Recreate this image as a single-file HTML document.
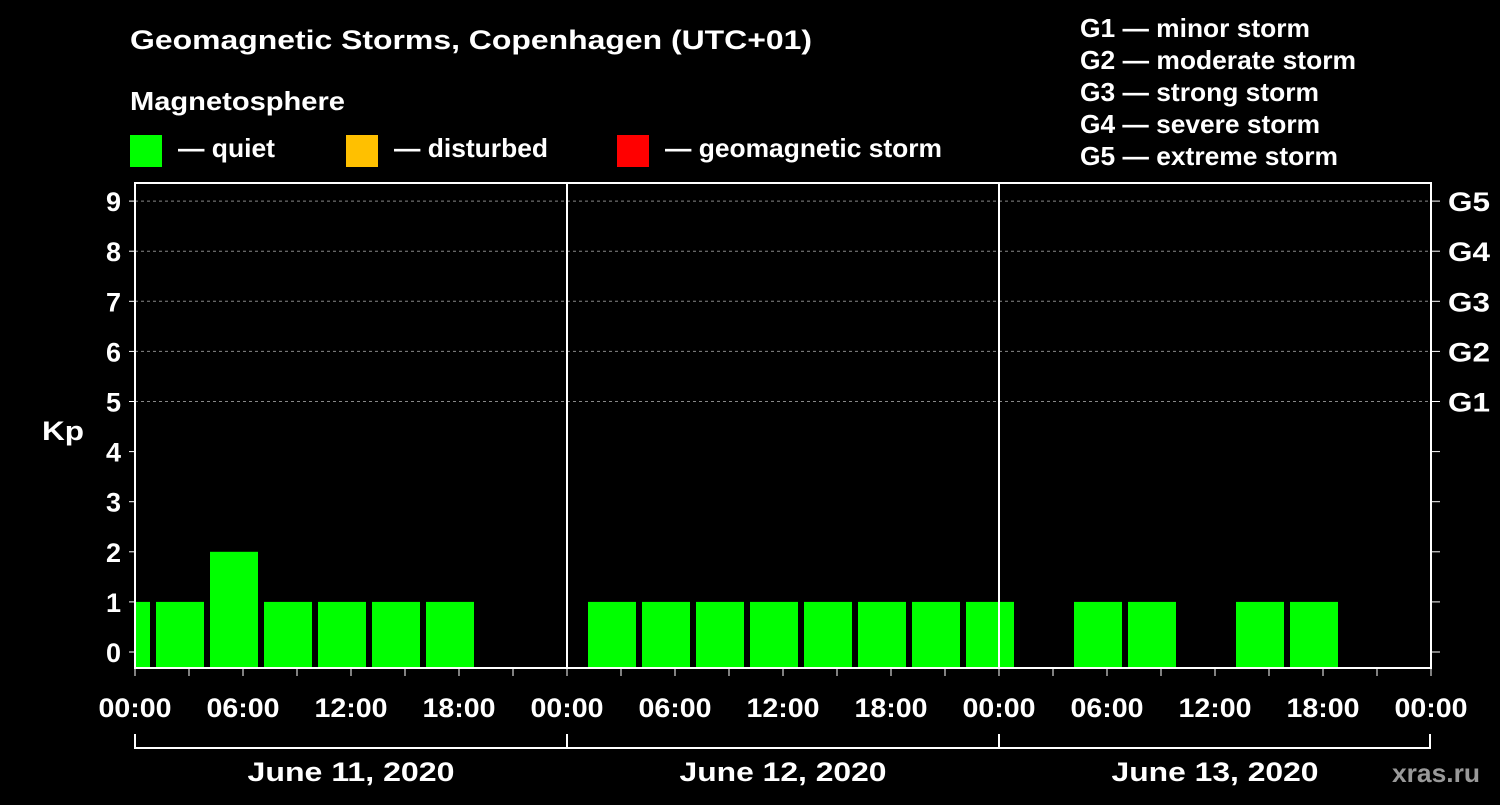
<!DOCTYPE html>
<html><head><meta charset="utf-8"><style>
body{margin:0;background:#000;width:1500px;height:800px;overflow:hidden}
svg text{font-family:"Liberation Sans",Arial,sans-serif;font-weight:bold;fill:#fff}
</style></head><body>
<svg id="chart" width="1500" height="800" xmlns="http://www.w3.org/2000/svg">
<rect width="1500" height="800" fill="#000"/>
<text x="130" y="49" font-size="27" textLength="682" lengthAdjust="spacingAndGlyphs">Geomagnetic Storms, Copenhagen (UTC+01)</text>
<text x="130" y="110" font-size="26" textLength="215" lengthAdjust="spacingAndGlyphs">Magnetosphere</text>
<g><rect x="130" y="135" width="32" height="32" fill="#00ff00"/><text x="178" y="157" font-size="26" textLength="97" lengthAdjust="spacingAndGlyphs">— quiet</text></g>
<g><rect x="346" y="135" width="32" height="32" fill="#ffc000"/><text x="394" y="157" font-size="26" textLength="154" lengthAdjust="spacingAndGlyphs">— disturbed</text></g>
<g><rect x="617" y="135" width="32" height="32" fill="#ff0000"/><text x="665" y="157" font-size="26" textLength="277" lengthAdjust="spacingAndGlyphs">— geomagnetic storm</text></g>
<g font-size="26">
<text x="1080" y="37" textLength="230" lengthAdjust="spacingAndGlyphs">G1 — minor storm</text>
<text x="1080" y="69" textLength="276" lengthAdjust="spacingAndGlyphs">G2 — moderate storm</text>
<text x="1080" y="101" textLength="239" lengthAdjust="spacingAndGlyphs">G3 — strong storm</text>
<text x="1080" y="133" textLength="240" lengthAdjust="spacingAndGlyphs">G4 — severe storm</text>
<text x="1080" y="165" textLength="258" lengthAdjust="spacingAndGlyphs">G5 — extreme storm</text>
</g>
<g id="plot"></g>
<text x="42" y="440" font-size="27" textLength="42" lengthAdjust="spacingAndGlyphs">Kp</text>
<text x="1392" y="782" font-size="26" textLength="88" lengthAdjust="spacingAndGlyphs" style="fill:#999">xras.ru</text>
</svg>
<script>
const kpValues=[1,1,2,1,1,1,1,null, null,1,1,1,1,1,1,1, 1,null,1,1,null,1,1,null,null];
const barHours=[-0.5,2.5,5.5,8.5,11.5,14.5,17.5,20.5, 23.5,26.5,29.5,32.5,35.5,38.5,41.5,44.5, 47.5,50.5,53.5,56.5,59.5,62.5,65.5,68.5,71.5];
const dayLabels=["June 11, 2020","June 12, 2020","June 13, 2020"];
const timeLabels=["00:00","06:00","12:00","18:00"];
const yTicks=[0,1,2,3,4,5,6,7,8,9];
const gLabels=["G1","G2","G3","G4","G5"];
const ns="http://www.w3.org/2000/svg";
const L=135,R=1431,T=183,B=668;
const xs=h=>L+h*18;
const ys=v=>652-v*50.1;
const plot=document.getElementById('plot');
function mk(t,a){const e=document.createElementNS(ns,t);for(const k in a)e.setAttribute(k,a[k]);plot.appendChild(e);return e;}
[5,6,7,8,9].forEach(v=>{const e=mk('line',{x1:L,x2:R,y1:ys(v),y2:ys(v),stroke:'#888','stroke-dasharray':'3,3','stroke-width':1});

});
kpValues.forEach((v,i)=>{if(v==null)return;
let x0=xs(barHours[i])-24,x1=xs(barHours[i])+24;x0=Math.max(x0,L+1);x1=Math.min(x1,R-1);
const col=v>=5?'#ff0000':(v>=4?'#ffc000':'#00ff00');
const e=mk('rect',{x:x0,y:ys(v),width:x1-x0,height:B-ys(v),fill:col});

});
const f=mk('rect',{x:L,y:T,width:R-L,height:B-T,fill:'none',stroke:'#fff','stroke-width':2});


[1,2].forEach(d=>{const e=mk('line',{x1:xs(d*24),x2:xs(d*24),y1:T,y2:B,stroke:'#fff','stroke-width':2});

});
yTicks.forEach(v=>{
mk('line',{x1:L-6,x2:L,y1:ys(v),y2:ys(v),stroke:'#fff','stroke-width':1});
mk('line',{x1:R,x2:R+9,y1:ys(v),y2:ys(v),stroke:'#fff','stroke-width':1});
const t=mk('text',{x:L-14,y:ys(v)+10,'font-size':27,'text-anchor':'end'});t.textContent=v;

});
gLabels.forEach((g,i)=>{const t=mk('text',{x:1448,y:ys(i+5)+10,'font-size':27,textLength:42,lengthAdjust:'spacingAndGlyphs'});t.textContent=g;

});
for(let h=0;h<=72;h+=3){mk('line',{x1:xs(h),x2:xs(h),y1:B,y2:B+8,stroke:'#fff','stroke-width':1});}
for(let d=0;d<=3;d++){for(let k=0;k<4;k++){if(d==3&&k>0)break;
const t=mk('text',{x:xs(d*24+k*6),y:717,'font-size':27,'text-anchor':'middle',textLength:73,lengthAdjust:'spacingAndGlyphs'});t.textContent=timeLabels[k];

}}
mk('line',{x1:L,x2:R-1,y1:748,y2:748,stroke:'#fff','stroke-width':2});
for(let d=0;d<=3;d++)mk('line',{x1:Math.min(xs(d*24),R-1),x2:Math.min(xs(d*24),R-1),y1:734,y2:749,stroke:'#fff','stroke-width':2});
dayLabels.forEach((s,i)=>{const t=mk('text',{x:xs(i*24+12),y:781,'font-size':27,'text-anchor':'middle',textLength:207,lengthAdjust:'spacingAndGlyphs'});t.textContent=s;

});
</script>
</body></html>
